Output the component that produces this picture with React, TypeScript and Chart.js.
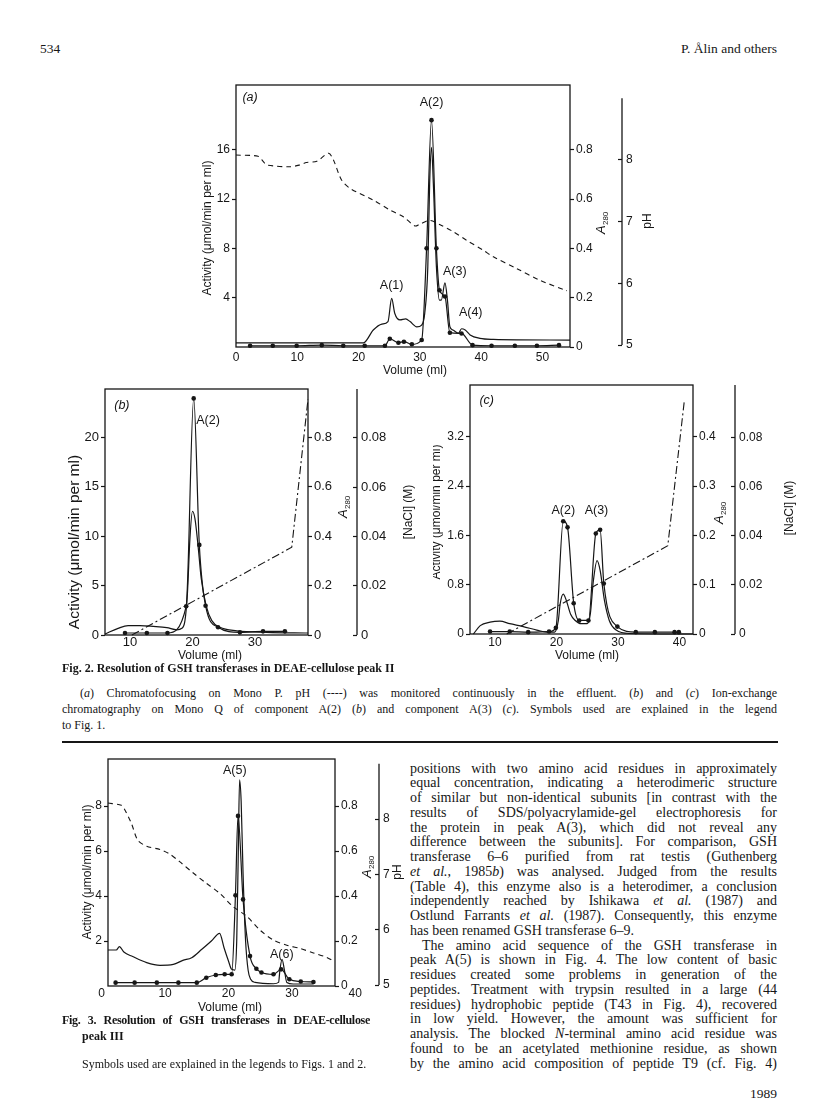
import React, { useEffect, useRef } from "react";
import { Chart, registerables } from "chart.js";

Chart.register(...registerables);

const SANS = '"Liberation Sans", Arial, Helvetica, sans-serif';
const SERIF = '"Liberation Serif", "Times New Roman", Times, serif';
const INK = "#161616";
const TICK_LEN = 4;
const LABEL_SIZE = 12.5;

// ---------------- Fig. 2 (a) ----------------
const A_X_TICKS = [0, 10, 20, 30, 40, 50];
const A_ACT_TICKS = [4, 8, 12, 16];
const A_ABS_TICKS = [0, 0.2, 0.4, 0.6, 0.8];
const A_PH_TICKS = [5, 6, 7, 8];
const A_ACT_VOL = [2.3, 6.0, 9.9, 14.0, 17.5, 21.0, 24.3, 25.1, 26.5, 27.4, 28.7, 30.3, 31.1, 31.9, 32.7, 33.2, 34.1, 34.9, 36.8, 38.6, 41.7, 45.5, 49.1, 52.7];
const A_ACT = [0.1, 0.1, 0.1, 0.15, 0.1, 0.1, 0.1, 0.67, 0.35, 0.43, 0.22, 0.57, 8.0, 18.4, 8.0, 4.6, 4.1, 1.16, 1.1, 0.15, 0.1, 0.1, 0.1, 0.15];
const A_ABS_VOL = [0, 20.8, 22.4, 23.8, 24.8, 25.4, 25.9, 26.75, 27.7, 28.4, 29.5, 30.3, 30.8, 31.3, 31.6, 31.9, 32.2, 32.7, 33.2, 33.5, 34.1, 34.5, 34.9, 35.4, 36.3, 36.8, 37.4, 38.2, 39.8, 42.0, 54.5];
const A_ABS = [0.017, 0.017, 0.069, 0.093, 0.103, 0.197, 0.137, 0.11, 0.114, 0.103, 0.082, 0.089, 0.137, 0.326, 0.664, 0.81, 0.664, 0.326, 0.19, 0.19, 0.26, 0.19, 0.082, 0.069, 0.056, 0.074, 0.069, 0.049, 0.035, 0.031, 0.028];
const A_PH_VOL = [0, 3.6, 4.5, 5.0, 8.8, 10.4, 11.5, 13.2, 15.1, 15.9, 17.2, 18.6, 22.4, 25.1, 27.3, 29.2, 30.0, 31.6, 33.3, 35.4, 37.6, 40.3, 42.0, 45.8, 49.6, 54.0];
const A_PH = [8.08, 8.06, 7.97, 7.92, 7.89, 7.92, 7.96, 7.98, 8.11, 8.0, 7.68, 7.54, 7.35, 7.19, 7.08, 6.93, 6.96, 7.02, 6.95, 6.84, 6.7, 6.54, 6.43, 6.24, 6.05, 5.88];

// ---------------- Fig. 2 (b) ----------------
const B_X_TICKS = [10, 20, 30];
const B_ACT_TICKS = [0, 5, 10, 15, 20];
const B_ABS_TICKS = [0, 0.2, 0.4, 0.6, 0.8];
const B_NACL_TICKS = [0, 0.02, 0.04, 0.06, 0.08];
const B_ACT_VOL = [9.2, 12.7, 16.0, 19.0, 20.2, 21.1, 22.1, 24.1, 27.6, 31.3, 34.8];
const B_ACT = [0.2, 0.2, 0.2, 2.9, 23.9, 9.1, 2.96, 0.78, 0.27, 0.37, 0.37];
const B_ABS_VOL = [6.0, 8.1, 9.7, 11.6, 13.7, 15.9, 17.5, 18.3, 18.8, 19.2, 19.6, 20.0, 20.4, 20.9, 21.4, 22.2, 23.1, 24.4, 27.1, 31.9, 38.5];
const B_ABS = [0.004, 0.027, 0.038, 0.038, 0.035, 0.03, 0.021, 0.027, 0.058, 0.17, 0.39, 0.5, 0.47, 0.36, 0.23, 0.118, 0.058, 0.031, 0.017, 0.011, 0.008];
const B_NACL_VOL = [10.3, 35.9, 38.5];
const B_NACL = [0, 0.0356, 0.0957];

// ---------------- Fig. 2 (c) ----------------
const C_X_TICKS = [10, 20, 30, 40];
const C_ACT_TICKS = [0, 0.8, 1.6, 2.4, 3.2];
const C_ABS_TICKS = [0, 0.1, 0.2, 0.3, 0.4];
const C_NACL_TICKS = [0, 0.02, 0.04, 0.06, 0.08];
const C_ACT_VOL = [9.2, 12.4, 15.4, 18.8, 19.9, 21.1, 21.8, 22.8, 23.7, 25.2, 26.4, 27.1, 27.7, 29.9, 32.9, 36.0, 39.2, 39.9];
const C_ACT = [0.04, 0.04, 0.03, 0.04, 0.1, 1.83, 1.73, 0.5, 0.22, 0.22, 1.63, 1.69, 0.82, 0.12, 0.03, 0.03, 0.03, 0.03];
const C_ABS_VOL = [6.5, 7.6, 9.2, 10.8, 12.4, 14.6, 16.8, 18.4, 19.7, 20.3, 20.6, 21.1, 21.6, 22.3, 23.0, 24.05, 25.0, 25.5, 26.0, 26.6, 27.1, 27.8, 28.6, 29.7, 31.9, 42.2];
const C_ABS = [0, 0.017, 0.024, 0.026, 0.021, 0.015, 0.008, 0.004, 0.004, 0.027, 0.061, 0.081, 0.068, 0.04, 0.028, 0.021, 0.021, 0.04, 0.108, 0.149, 0.129, 0.068, 0.027, 0.008, 0.001, 0];
const C_NACL_VOL = [11.9, 38.1, 40.8];
const C_NACL = [0, 0.036, 0.0954];

// ---------------- Fig. 3 ----------------
const F_X_TICKS = [10, 20, 30];
const F_X_EXTRA = [0, 40];
const F_ACT_TICKS = [2, 4, 6, 8];
const F_ABS_TICKS = [0, 0.2, 0.4, 0.6, 0.8];
const F_PH_TICKS = [5, 6, 7, 8];
const F_ACT_VOL = [2.2, 5.2, 8.7, 12.1, 15.0, 16.5, 18.0, 19.4, 20.5, 21.1, 21.5, 22.3, 23.4, 24.4, 25.2, 27.1, 28.3, 29.6, 31.4, 33.4];
const F_ACT = [0.15, 0.15, 0.15, 0.15, 0.15, 0.37, 0.49, 0.52, 0.52, 4.03, 7.56, 3.85, 1.33, 0.77, 0.6, 0.52, 0.74, 0.3, 0.2, 0.18];
const F_ABS_VOL = [1.0, 2.3, 2.8, 3.5, 4.9, 7.1, 9.2, 11.3, 12.8, 14.2, 15.8, 17.3, 18.6, 19.3, 20.0, 20.5, 21.0, 21.3, 21.55, 21.75, 22.0, 22.3, 22.7, 23.1, 23.5, 24.2, 27.1, 27.9, 28.1, 28.45, 28.8, 29.2, 30.2, 33.4];
const F_ABS = [0.16, 0.16, 0.175, 0.151, 0.131, 0.104, 0.092, 0.096, 0.114, 0.126, 0.163, 0.2, 0.234, 0.17, 0.111, 0.074, 0.071, 0.2, 0.6, 0.916, 0.82, 0.5, 0.2, 0.07, 0.03, 0.016, 0.01, 0.016, 0.067, 0.119, 0.074, 0.016, 0.009, 0.009];
const F_PH_VOL = [1.0, 3.1, 3.6, 4.7, 5.7, 7.1, 9.2, 10.7, 12.3, 14.4, 16.5, 18.6, 20.7, 22.9, 25.0, 27.1, 29.2, 31.3, 33.4, 35.5, 36.3];
const F_PH = [8.29, 8.25, 8.18, 7.92, 7.62, 7.51, 7.45, 7.37, 7.23, 7.03, 6.84, 6.66, 6.42, 6.24, 5.99, 5.81, 5.72, 5.66, 5.58, 5.5, 5.45];

type Title = { text: string; x: number; y: number; kind: "v" | "h" | "a280"; size?: number };
type Label = { text: string; x: number; y: number; italic?: boolean };
interface Panel {
  id: string;
  frame: { l: number; t: number; r: number; b: number };
  leftW: number; absW: number; auxW: number; padTop: number; xH: number; xPad: number; tickSize: number;
  x: { min: number; max: number; ticks: number[]; extra: number[] };
  act: { max: number; ticks: number[]; vol: number[]; val: number[] };
  abs: { max: number; ticks: number[]; vol: number[]; val: number[] };
  aux: { min: number; max: number; ticks: number[]; line: [number, number]; vol: number[]; val: number[]; dash: number[]; tension: number };
  labels: Label[];
  titles: Title[];
}

const pts = (xs: number[], ys: number[]) => xs.map((x, i) => ({ x, y: ys[i] }));

const PANELS: Panel[] = [
  {
    id: "a",
    frame: { l: 236, t: 85, r: 570, b: 347 },
    leftW: 36, absW: 48, auxW: 46, padTop: 12, xH: 31, xPad: 3, tickSize: 12,
    x: { min: 0, max: 54.5, ticks: A_X_TICKS, extra: [] },
    act: { max: 21.25, ticks: A_ACT_TICKS, vol: A_ACT_VOL, val: A_ACT },
    abs: { max: 1.0625, ticks: A_ABS_TICKS, vol: A_ABS_VOL, val: A_ABS },
    aux: { min: 4.968, max: 9.216, ticks: A_PH_TICKS, line: [5, 9], vol: A_PH_VOL, val: A_PH, dash: [5, 4], tension: 0.3 },
    labels: [
      { text: "(a)", x: 2.3, y: 20.2, italic: true },
      { text: "A(2)", x: 31.9, y: 19.8 },
      { text: "A(1)", x: 25.4, y: 4.95 },
      { text: "A(3)", x: 35.7, y: 6.08 },
      { text: "A(4)", x: 38.3, y: 2.76 },
    ],
    titles: [
      { text: "Activity (μmol/min per ml)", x: 208, y: 228, kind: "v" },
      { text: "A280", x: 600, y: 223, kind: "a280" },
      { text: "pH", x: 648, y: 221, kind: "v" },
      { text: "Volume (ml)", x: 415, y: 371, kind: "h" },
    ],
  },
  {
    id: "b",
    frame: { l: 105, t: 389, r: 308, b: 635 },
    leftW: 37, absW: 45, auxW: 70, padTop: 12, xH: 28, xPad: 0, tickSize: 13,
    x: { min: 6.0, max: 38.5, ticks: B_X_TICKS, extra: [] },
    act: { max: 24.85, ticks: B_ACT_TICKS, vol: B_ACT_VOL, val: B_ACT },
    abs: { max: 0.994, ticks: B_ABS_TICKS, vol: B_ABS_VOL, val: B_ABS },
    aux: { min: 0, max: 0.0998, ticks: B_NACL_TICKS, line: [0, 0.0998], vol: B_NACL_VOL, val: B_NACL, dash: [8, 3, 2, 3], tension: 0 },
    labels: [
      { text: "(b)", x: 8.7, y: 23.2, italic: true },
      { text: "A(2)", x: 22.5, y: 21.7 },
    ],
    titles: [
      { text: "Activity (μmol/min per ml)", x: 75, y: 542, kind: "v", size: 15.5 },
      { text: "A280", x: 342, y: 507, kind: "a280" },
      { text: "[NaCl] (M)", x: 409, y: 512, kind: "v" },
      { text: "Volume (ml)", x: 210, y: 656, kind: "h" },
    ],
  },
  {
    id: "c",
    frame: { l: 470, t: 385, r: 693, b: 634 },
    leftW: 37, absW: 38, auxW: 70, padTop: 12, xH: 28, xPad: 1, tickSize: 12,
    x: { min: 5.94, max: 42.2, ticks: C_X_TICKS, extra: [] },
    act: { max: 4.04, ticks: C_ACT_TICKS, vol: C_ACT_VOL, val: C_ACT },
    abs: { max: 0.505, ticks: C_ABS_TICKS, vol: C_ABS_VOL, val: C_ABS },
    aux: { min: 0, max: 0.1016, ticks: C_NACL_TICKS, line: [0, 0.1016], vol: C_NACL_VOL, val: C_NACL, dash: [8, 3, 2, 3], tension: 0 },
    labels: [
      { text: "(c)", x: 8.65, y: 3.79, italic: true },
      { text: "A(2)", x: 21.1, y: 2.0 },
      { text: "A(3)", x: 26.5, y: 2.0 },
    ],
    titles: [
      { text: "Activity (μmol/min per ml)", x: 437, y: 512, kind: "v" },
      { text: "A280", x: 718, y: 513, kind: "a280" },
      { text: "[NaCl] (M)", x: 790, y: 508, kind: "v" },
      { text: "Volume (ml)", x: 587, y: 656, kind: "h" },
    ],
  },
  {
    id: "f3",
    frame: { l: 108, t: 759, r: 335, b: 986 },
    leftW: 29, absW: 40, auxW: 34, padTop: 12, xH: 29, xPad: 0, tickSize: 12,
    x: { min: 1.0, max: 36.8, ticks: F_X_TICKS, extra: F_X_EXTRA },
    act: { max: 10.09, ticks: F_ACT_TICKS, vol: F_ACT_VOL, val: F_ACT },
    abs: { max: 1.009, ticks: F_ABS_TICKS, vol: F_ABS_VOL, val: F_ABS },
    aux: { min: 4.982, max: 9.087, ticks: F_PH_TICKS, line: [5, 9], vol: F_PH_VOL, val: F_PH, dash: [5, 4], tension: 0.3 },
    labels: [
      { text: "A(5)", x: 21.0, y: 9.57 },
      { text: "A(6)", x: 28.4, y: 1.41 },
    ],
    titles: [
      { text: "Activity (μmol/min per ml)", x: 88, y: 872, kind: "v" },
      { text: "A280", x: 366, y: 867, kind: "a280" },
      { text: "pH", x: 398, y: 872, kind: "v" },
      { text: "Volume (ml)", x: 230, y: 1008, kind: "h" },
    ],
  },
];

function makePaper(p: Panel, cl: number, ct: number) {
  return {
    id: "paper_" + p.id,
    afterDraw(chart: any) {
      const ctx = chart.ctx as CanvasRenderingContext2D;
      const a = chart.chartArea;
      const sx = chart.scales.x;
      const sy = chart.scales.y;
      const sp = chart.scales.yP;
      ctx.save();
      ctx.strokeStyle = INK;
      ctx.fillStyle = INK;
      ctx.lineWidth = 1.3;
      ctx.strokeRect(a.left, a.top, a.right - a.left, a.bottom - a.top);
      const lx = sp.left + TICK_LEN;
      ctx.beginPath();
      ctx.moveTo(lx, sp.getPixelForValue(p.aux.line[0]));
      ctx.lineTo(lx, sp.getPixelForValue(p.aux.line[1]));
      ctx.stroke();
      ctx.textAlign = "center";
      ctx.textBaseline = "middle";
      ctx.font = `${p.tickSize}px ${SANS}`;
      for (const v of p.x.extra) {
        ctx.fillText(String(v), sx.getPixelForValue(v), sx.top + p.xPad + p.tickSize * 0.6);
      }
      for (const l of p.labels) {
        ctx.font = `${l.italic ? "italic " : ""}${LABEL_SIZE}px ${SANS}`;
        ctx.fillText(l.text, sx.getPixelForValue(l.x), sy.getPixelForValue(l.y));
      }
      for (const t of p.titles) {
        ctx.save();
        ctx.translate(t.x - cl, t.y - ct);
        if (t.kind !== "h") ctx.rotate(-Math.PI / 2);
        if (t.kind === "a280") {
          const f1 = `italic 13px ${SANS}`;
          const f2 = `8px ${SANS}`;
          ctx.font = f1;
          const w1 = ctx.measureText("A").width;
          ctx.font = f2;
          const w2 = ctx.measureText("280").width;
          const s = -(w1 + w2) / 2;
          ctx.textAlign = "left";
          ctx.textBaseline = "alphabetic";
          ctx.font = f1;
          ctx.fillText("A", s, 4.5);
          ctx.font = f2;
          ctx.fillText("280", s + w1 + 0.3, 7.5);
        } else {
          ctx.font = `${t.size ?? 12}px ${SANS}`;
          ctx.fillText(t.text, 0, 0);
        }
        ctx.restore();
      }
      ctx.restore();
    },
  };
}

function buildConfig(p: Panel, cl: number, ct: number): any {
  const tickFont = { family: SANS, size: p.tickSize };
  const fmt = (v: any) => String(v);
  const fix = (vals: number[]) => (s: any) => {
    s.ticks = vals.map((v) => ({ value: v }));
  };
  const yGrid = { display: true, drawOnChartArea: false, drawTicks: true, tickLength: TICK_LEN, tickColor: INK, tickWidth: 1.2, color: INK };
  return {
    type: "line",
    data: {
      datasets: [
        {
          label: "A280",
          data: pts(p.abs.vol, p.abs.val),
          yAxisID: "yA",
          borderColor: INK,
          borderWidth: 1.2,
          pointRadius: 0,
          cubicInterpolationMode: "monotone",
          fill: false,
          clip: 6,
        },
        {
          label: "Activity",
          data: pts(p.act.vol, p.act.val),
          yAxisID: "y",
          borderColor: INK,
          borderWidth: 1.2,
          pointRadius: 2.3,
          pointBackgroundColor: INK,
          pointBorderColor: INK,
          pointBorderWidth: 0,
          cubicInterpolationMode: "monotone",
          fill: false,
          clip: 6,
        },
        {
          label: "aux",
          data: pts(p.aux.vol, p.aux.val),
          yAxisID: "yP",
          borderColor: INK,
          borderWidth: 1.1,
          borderDash: p.aux.dash,
          pointRadius: 0,
          tension: p.aux.tension,
          fill: false,
          clip: 6,
        },
      ],
    },
    options: {
      responsive: false,
      animation: false,
      events: [],
      layout: { padding: { top: p.padTop, left: 0, right: 0, bottom: 0 } },
      plugins: { legend: { display: false }, tooltip: { enabled: false } },
      scales: {
        x: {
          type: "linear",
          position: "bottom",
          min: p.x.min,
          max: p.x.max,
          afterBuildTicks: fix(p.x.ticks),
          afterFit: (s: any) => {
            s.height = p.xH;
          },
          grid: { display: false, drawTicks: false },
          border: { display: false },
          ticks: { font: tickFont, color: INK, padding: p.xPad, autoSkip: false, maxRotation: 0, callback: fmt },
        },
        y: {
          type: "linear",
          position: "left",
          min: 0,
          max: p.act.max,
          afterBuildTicks: fix(p.act.ticks),
          afterFit: (s: any) => {
            s.width = p.leftW;
          },
          grid: yGrid,
          border: { display: false },
          ticks: { font: tickFont, color: INK, padding: 2, autoSkip: false, callback: fmt },
        },
        yA: {
          type: "linear",
          position: "right",
          weight: 0,
          min: 0,
          max: p.abs.max,
          afterBuildTicks: fix(p.abs.ticks),
          afterFit: (s: any) => {
            s.width = p.absW;
          },
          grid: yGrid,
          border: { display: false },
          ticks: { font: tickFont, color: INK, padding: 2, autoSkip: false, callback: fmt },
        },
        yP: {
          type: "linear",
          position: "right",
          weight: 1,
          min: p.aux.min,
          max: p.aux.max,
          afterBuildTicks: fix(p.aux.ticks),
          afterFit: (s: any) => {
            s.width = p.auxW;
          },
          grid: yGrid,
          border: { display: false },
          ticks: { font: tickFont, color: INK, padding: 4, autoSkip: false, callback: fmt },
        },
      },
    },
    plugins: [makePaper(p, cl, ct)],
  };
}

function PanelChart({ p }: { p: Panel }) {
  const ref = useRef<HTMLCanvasElement | null>(null);
  const cl = p.frame.l - p.leftW;
  const ct = p.frame.t - p.padTop;
  const cw = p.leftW + (p.frame.r - p.frame.l) + p.absW + p.auxW;
  const ch = p.padTop + (p.frame.b - p.frame.t) + p.xH;
  useEffect(() => {
    const chart = new Chart(ref.current as HTMLCanvasElement, buildConfig(p, cl, ct));
    return () => chart.destroy();
  }, []);
  return (
    <canvas
      ref={ref}
      width={cw}
      height={ch}
      style={{ position: "absolute", left: cl, top: ct, width: cw, height: ch }}
    />
  );
}

function Line(props: {
  x: number; y: number; w?: number; size?: number; lh?: number; bold?: boolean;
  just?: boolean; align?: "left" | "right" | "center"; children: React.ReactNode; spacing?: number;
}) {
  const { x, y, w, size = 13, lh = 15, bold, just, align = "left", children, spacing } = props;
  return (
    <div
      style={{
        position: "absolute",
        left: x,
        top: y - lh / 2,
        width: w,
        fontSize: size,
        lineHeight: `${lh}px`,
        fontWeight: bold ? 700 : 400,
        textAlign: just ? "justify" : align,
        textAlignLast: just ? "justify" : align,
        whiteSpace: w ? "normal" : "nowrap",
        letterSpacing: spacing,
      }}
    >
      {children}
    </div>
  );
}

const BODY_X = 410;
const BODY_W = 367;
const BODY_Y0 = 768;
const BODY_DY = 14.75;
const BODY_SIZE = 14;

const BODY: { t: React.ReactNode; last?: boolean; indent?: boolean }[] = [
  { t: "positions with two amino acid residues in approximately" },
  { t: "equal concentration, indicating a heterodimeric structure" },
  { t: "of similar but non-identical subunits [in contrast with the" },
  { t: "results of SDS/polyacrylamide-gel electrophoresis for" },
  { t: "the protein in peak A(3), which did not reveal any" },
  { t: "difference between the subunits]. For comparison, GSH" },
  { t: "transferase 6–6 purified from rat testis (Guthenberg" },
  { t: <><i>et al.</i>, 1985<i>b</i>) was analysed. Judged from the results</> },
  { t: "(Table 4), this enzyme also is a heterodimer, a conclusion" },
  { t: <>independently reached by Ishikawa <i>et al.</i> (1987) and</> },
  { t: <>Ostlund Farrants <i>et al.</i> (1987). Consequently, this enzyme</> },
  { t: "has been renamed GSH transferase 6–9.", last: true },
  { t: "The amino acid sequence of the GSH transferase in", indent: true },
  { t: "peak A(5) is shown in Fig. 4. The low content of basic" },
  { t: "residues created some problems in generation of the" },
  { t: "peptides. Treatment with trypsin resulted in a large (44" },
  { t: "residues) hydrophobic peptide (T43 in Fig. 4), recovered" },
  { t: "in low yield. However, the amount was sufficient for" },
  { t: <>analysis. The blocked <i>N</i>-terminal amino acid residue was</> },
  { t: "found to be an acetylated methionine residue, as shown" },
  { t: "by the amino acid composition of peptide T9 (cf. Fig. 4)" },
];

export default function App() {
  return (
    <div
      style={{
        position: "absolute",
        left: 0,
        top: 0,
        width: 816,
        height: 1103,
        overflow: "hidden",
        background: "#ffffff",
        color: INK,
        fontFamily: SERIF,
      }}
    >
      <Line x={40} y={48} size={13.5}>534</Line>
      <Line x={577} y={48} w={200} align="right" size={13.5}>P. Ålin and others</Line>

      {PANELS.map((p) => (
        <PanelChart key={p.id} p={p} />
      ))}

      <Line x={62} y={668} size={12} bold>
        Fig. 2. Resolution of GSH transferases in DEAE-cellulose peak II
      </Line>
      <Line x={80} y={693} w={697} size={12} just>
        (<i>a</i>) Chromatofocusing on Mono P. pH (----) was monitored continuously in the effluent. (<i>b</i>) and (<i>c</i>) Ion-exchange
      </Line>
      <Line x={62} y={709} w={715} size={12} just>
        chromatography on Mono Q of component A(2) (<i>b</i>) and component A(3) (<i>c</i>). Symbols used are explained in the legend
      </Line>
      <Line x={62} y={725} size={12}>to Fig. 1.</Line>

      <div style={{ position: "absolute", left: 62, top: 741, width: 716, height: 2, background: INK }} />

      <Line x={62} y={1020} w={308} size={12} bold just spacing={-0.3}>
        Fig. 3. Resolution of GSH transferases in DEAE-cellulose
      </Line>
      <Line x={82} y={1036} size={12} bold>peak III</Line>
      <Line x={82} y={1064} size={12}>Symbols used are explained in the legends to Figs. 1 and 2.</Line>

      {BODY.map((l, i) => (
        <Line
          key={i}
          x={l.indent ? BODY_X + 12 : BODY_X}
          y={BODY_Y0 + i * BODY_DY}
          w={l.indent ? BODY_W - 12 : BODY_W}
          size={BODY_SIZE}
          just={!l.last}
        >
          {l.t}
        </Line>
      ))}

      <Line x={677} y={1093} w={100} align="right" size={13.5}>1989</Line>
    </div>
  );
}
